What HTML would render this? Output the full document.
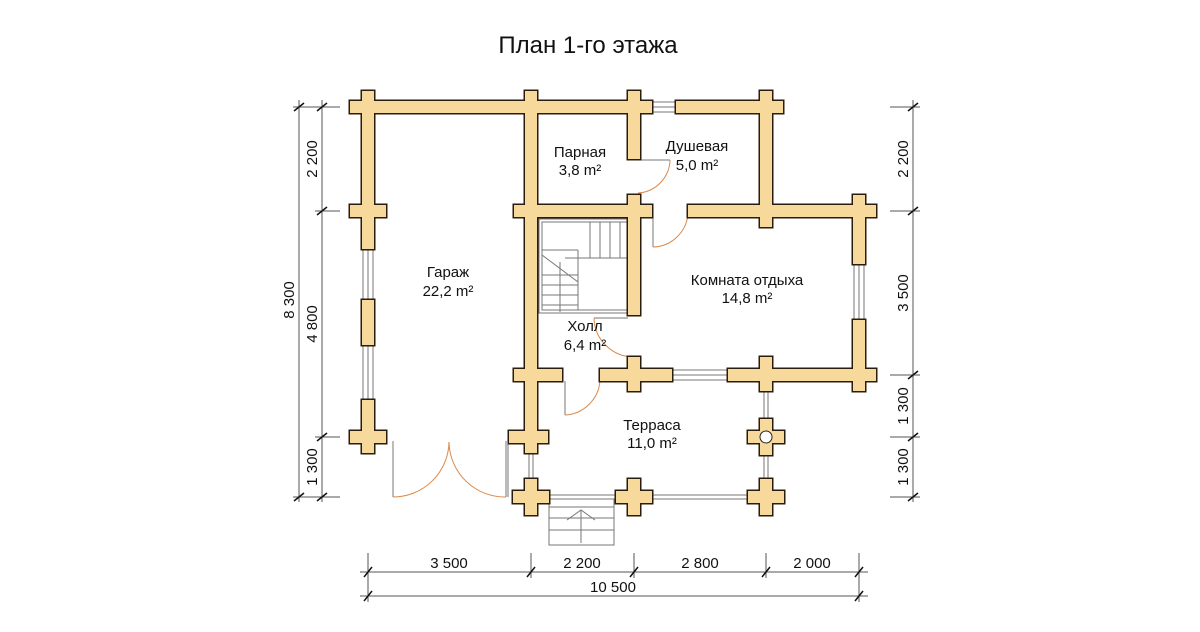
<!DOCTYPE html>
<html><head><meta charset="utf-8"><style>
html,body{margin:0;padding:0;background:#fff;}
svg{display:block;font-family:"Liberation Sans",Arial,sans-serif;}
</style></head><body>
<svg width="1200" height="632" viewBox="0 0 1200 632" xmlns="http://www.w3.org/2000/svg">
<defs>
<g id="w">
<rect x="350" y="101" width="302" height="12"/>
<rect x="676" y="101" width="107" height="12"/>
<rect x="362" y="91" width="12" height="36"/>
<rect x="525" y="91" width="12" height="36"/>
<rect x="628" y="91" width="12" height="36"/>
<rect x="760" y="91" width="12" height="36"/>
<rect x="362" y="101" width="12" height="148"/>
<rect x="362" y="300" width="12" height="45"/>
<rect x="362" y="400" width="12" height="53"/>
<rect x="350" y="205" width="36" height="12"/>
<rect x="350" y="431" width="36" height="12"/>
<rect x="525" y="101" width="12" height="352"/>
<rect x="514" y="205" width="138" height="12"/>
<rect x="514" y="369" width="48" height="12"/>
<rect x="509" y="431" width="39" height="12"/>
<rect x="628" y="101" width="12" height="58"/>
<rect x="628" y="195" width="12" height="120"/>
<rect x="688" y="205" width="188" height="12"/>
<rect x="760" y="101" width="12" height="126"/>
<rect x="853" y="195" width="12" height="69"/>
<rect x="853" y="320" width="12" height="71"/>
<rect x="600" y="369" width="72" height="12"/>
<rect x="628" y="357" width="12" height="34"/>
<rect x="728" y="369" width="148" height="12"/>
<rect x="760" y="357" width="12" height="34"/>
<rect x="525" y="479" width="12" height="36"/><rect x="513" y="491" width="36" height="12"/>
<rect x="628" y="479" width="12" height="36"/><rect x="616" y="491" width="36" height="12"/>
<rect x="760" y="479" width="12" height="36"/><rect x="748" y="491" width="36" height="12"/>
<rect x="760" y="419" width="12" height="36"/><rect x="748" y="431" width="36" height="12"/>
</g>
</defs>
<text x="588" y="53" font-size="24" text-anchor="middle" fill="#111">План 1-го этажа</text>

<g fill="none" stroke="#777" stroke-width="1">
<rect x="652" y="102" width="24" height="10"/><line x1="652" y1="107" x2="676" y2="107"/>
<rect x="363" y="249" width="10" height="51"/><line x1="368" y1="249" x2="368" y2="300"/>
<rect x="363" y="345" width="10" height="55"/><line x1="368" y1="345" x2="368" y2="400"/>
<rect x="854" y="264" width="10" height="56"/><line x1="859" y1="264" x2="859" y2="320"/>
<rect x="672" y="370" width="56" height="10"/><line x1="672" y1="375" x2="728" y2="375"/>
<rect x="529" y="453" width="4" height="26"/>
<line x1="549" y1="495" x2="616" y2="495"/><line x1="652" y1="495" x2="748" y2="495"/><line x1="652" y1="499" x2="748" y2="499"/>
<rect x="764" y="391" width="4" height="28"/><rect x="764" y="455" width="4" height="24"/>
<line x1="508" y1="437" x2="508" y2="497"/>
<line x1="393" y1="441" x2="393" y2="497"/><line x1="506" y1="441" x2="506" y2="497"/>
<line x1="640" y1="160" x2="670" y2="160"/>
<line x1="653" y1="217" x2="653" y2="247"/>
<line x1="628" y1="318" x2="594" y2="318"/>
<line x1="565" y1="381" x2="565" y2="415"/>
<rect x="539" y="219" width="93" height="94"/>
<rect x="542" y="222" width="87" height="88"/>
<line x1="542" y1="250" x2="578" y2="250"/><line x1="578" y1="250" x2="578" y2="310"/>
<line x1="542" y1="255" x2="578" y2="282"/>
<line x1="590" y1="222" x2="590" y2="258"/><line x1="600" y1="222" x2="600" y2="258"/><line x1="610" y1="222" x2="610" y2="258"/><line x1="620" y1="222" x2="620" y2="258"/>
<line x1="565" y1="258" x2="629" y2="258"/>
<line x1="542" y1="275" x2="578" y2="275"/><line x1="542" y1="285" x2="578" y2="285"/><line x1="542" y1="295" x2="578" y2="295"/><line x1="542" y1="305" x2="578" y2="305"/>
<line x1="560" y1="262" x2="560" y2="312"/>
<rect x="549" y="499" width="65" height="46"/>
<line x1="549" y1="507" x2="614" y2="507"/><line x1="549" y1="518" x2="614" y2="518"/><line x1="549" y1="530" x2="614" y2="530"/>
<line x1="581" y1="510" x2="581" y2="543"/><polyline points="567,520 581,510 595,520"/>
</g>
<g fill="none" stroke="#d9884a" stroke-width="1">
<path d="M393 497 A56 56 0 0 0 449 442"/>
<path d="M506 497 A56 56 0 0 1 449 442"/>
<path d="M670 160 A34 34 0 0 1 638 193"/>
<path d="M653 247 A36 36 0 0 0 688 213"/>
<path d="M594 318 A40 40 0 0 0 634 357"/>
<path d="M565 415 A37 37 0 0 0 600 380"/>
</g>
<use href="#w" fill="#f8d99c" stroke="#2a1d0e" stroke-width="3"/>
<use href="#w" fill="#f8d99c" stroke="none"/>
<circle cx="766" cy="437" r="6" fill="#fff" stroke="#222" stroke-width="1"/>

<g font-size="15" fill="#111" text-anchor="middle">
<text x="580" y="157">Парная</text><text x="580" y="175">3,8 m²</text>
<text x="697" y="151">Душевая</text><text x="697" y="170">5,0 m²</text>
<text x="448" y="277">Гараж</text><text x="448" y="296">22,2 m²</text>
<text x="747" y="285">Комната отдыха</text><text x="747" y="303">14,8 m²</text>
<text x="585" y="331">Холл</text><text x="585" y="350">6,4 m²</text>
<text x="652" y="430">Терраса</text><text x="652" y="448">11,0 m²</text>
</g>

<g stroke="#555" stroke-width="1" fill="none">
<line x1="299" y1="100" x2="299" y2="502"/>
<line x1="322" y1="100" x2="322" y2="502"/>
<line x1="293" y1="107" x2="340" y2="107"/><line x1="315" y1="211" x2="340" y2="211"/><line x1="315" y1="437" x2="340" y2="437"/><line x1="293" y1="497" x2="340" y2="497"/>
<line x1="913" y1="100" x2="913" y2="502"/>
<line x1="890" y1="107" x2="920" y2="107"/><line x1="890" y1="211" x2="920" y2="211"/><line x1="890" y1="375" x2="920" y2="375"/><line x1="890" y1="437" x2="920" y2="437"/><line x1="890" y1="497" x2="920" y2="497"/>
<line x1="360" y1="572" x2="868" y2="572"/>
<line x1="360" y1="596" x2="868" y2="596"/>
<line x1="368" y1="553" x2="368" y2="602"/><line x1="531" y1="553" x2="531" y2="578"/><line x1="634" y1="553" x2="634" y2="578"/><line x1="766" y1="553" x2="766" y2="578"/><line x1="859" y1="553" x2="859" y2="602"/>
</g>
<g stroke="#111" stroke-width="1.5">
<line x1="294" y1="111" x2="304" y2="103"/><line x1="294" y1="501" x2="304" y2="493"/>
<line x1="317" y1="111" x2="327" y2="103"/><line x1="317" y1="215" x2="327" y2="207"/><line x1="317" y1="441" x2="327" y2="433"/><line x1="317" y1="501" x2="327" y2="493"/>
<line x1="908" y1="111" x2="918" y2="103"/><line x1="908" y1="215" x2="918" y2="207"/><line x1="908" y1="379" x2="918" y2="371"/><line x1="908" y1="441" x2="918" y2="433"/><line x1="908" y1="501" x2="918" y2="493"/>
<line x1="364" y1="577" x2="372" y2="567"/><line x1="527" y1="577" x2="535" y2="567"/><line x1="630" y1="577" x2="638" y2="567"/><line x1="762" y1="577" x2="770" y2="567"/><line x1="855" y1="577" x2="863" y2="567"/>
<line x1="364" y1="601" x2="372" y2="591"/><line x1="855" y1="601" x2="863" y2="591"/>
</g>
<g font-size="15" fill="#111" text-anchor="middle">
<text transform="translate(294,300) rotate(-90)">8 300</text>
<text transform="translate(317,159) rotate(-90)">2 200</text>
<text transform="translate(317,324) rotate(-90)">4 800</text>
<text transform="translate(317,467) rotate(-90)">1 300</text>
<text transform="translate(908,159) rotate(-90)">2 200</text>
<text transform="translate(908,293) rotate(-90)">3 500</text>
<text transform="translate(908,406) rotate(-90)">1 300</text>
<text transform="translate(908,467) rotate(-90)">1 300</text>
<text x="449" y="568">3 500</text>
<text x="582" y="568">2 200</text>
<text x="700" y="568">2 800</text>
<text x="812" y="568">2 000</text>
<text x="613" y="592">10 500</text>
</g>
</svg>
</body></html>
